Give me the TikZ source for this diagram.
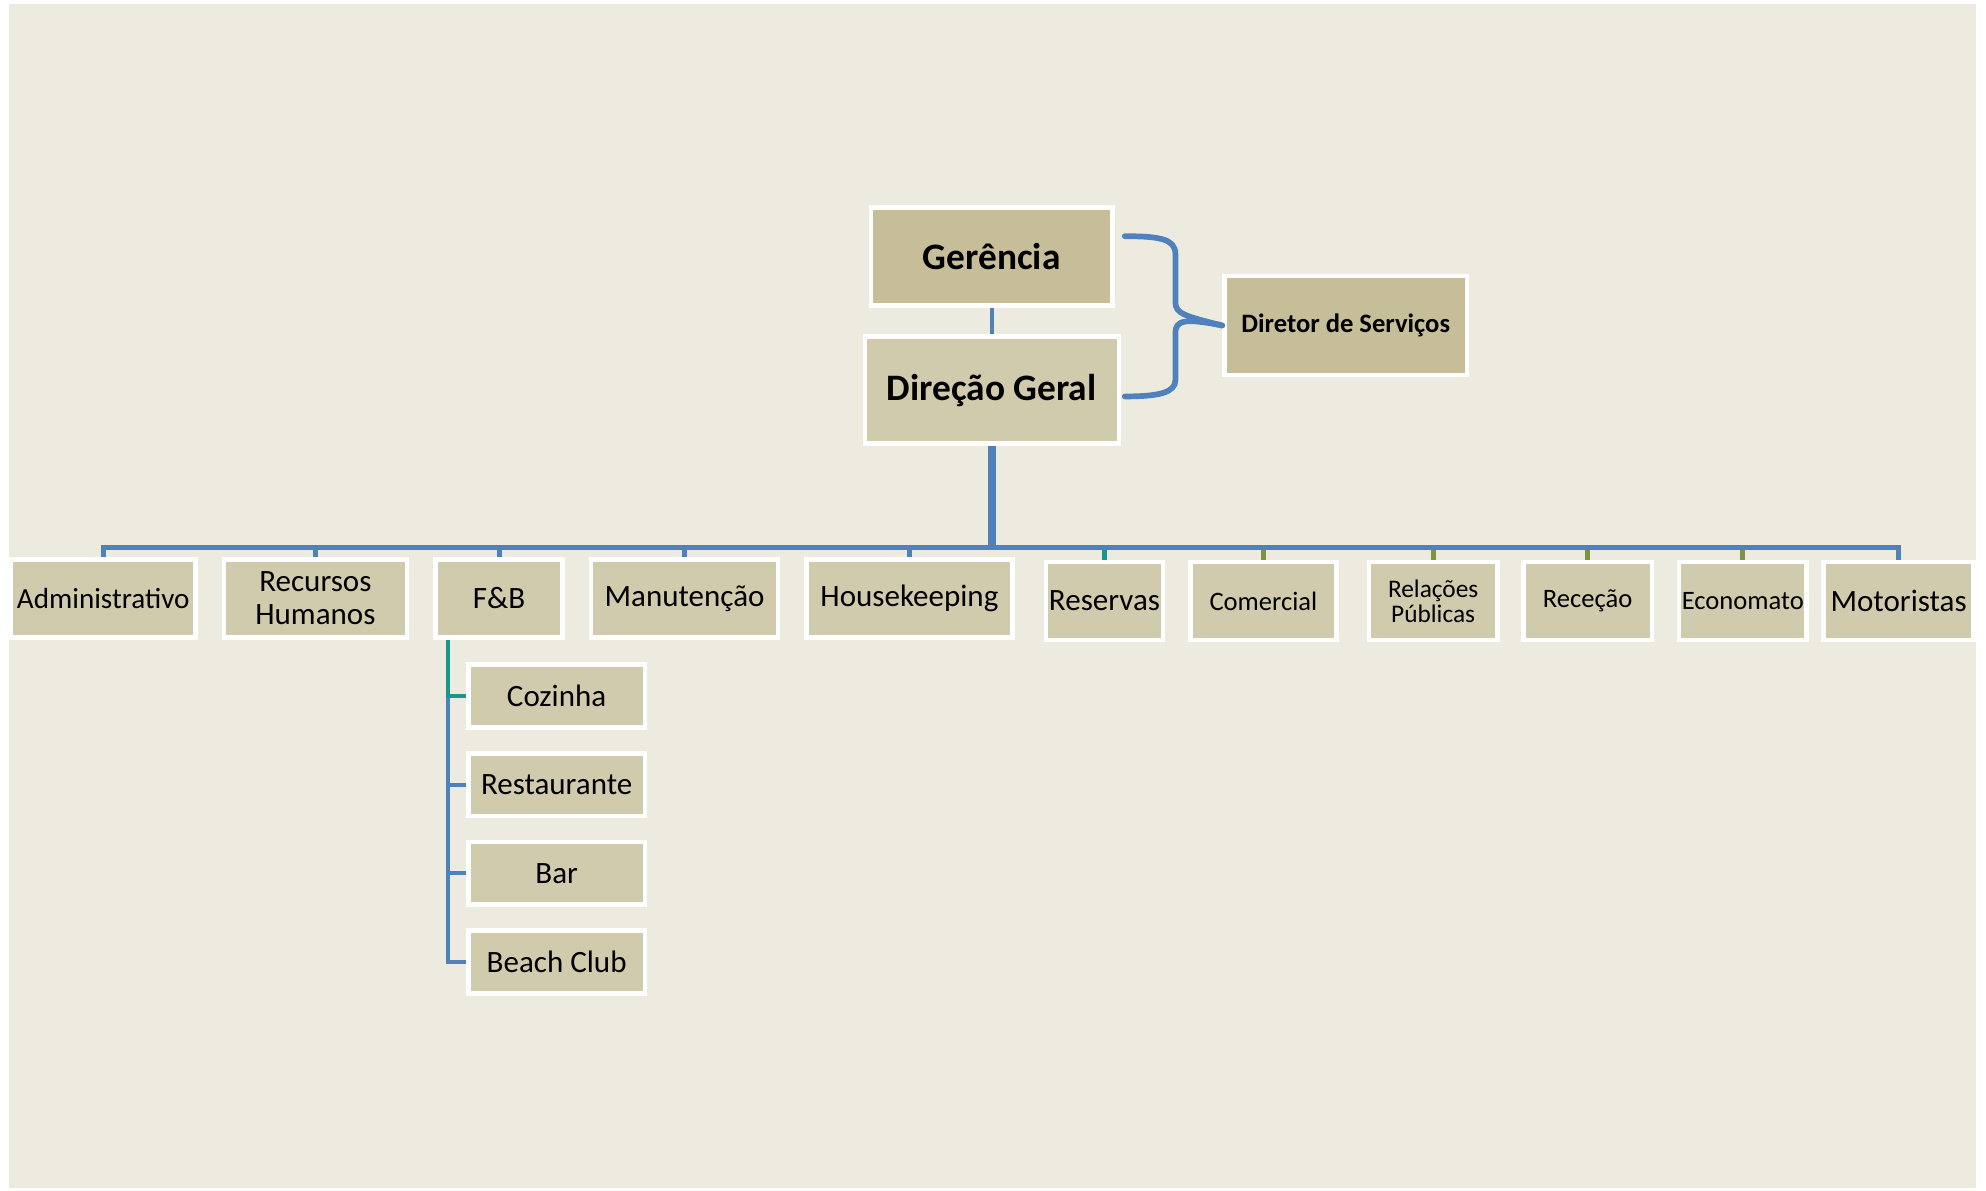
\documentclass[tikz,border=0pt]{standalone}
\usepackage{fontspec}
\setmainfont{Carlito}
\usetikzlibrary{calc}
\definecolor{bgc}{HTML}{EDEBE0}
\definecolor{boxfill}{HTML}{D0CBAD}
\definecolor{topfill}{HTML}{C5BE98}
\definecolor{lblue}{HTML}{4F81BD}
\definecolor{lteal}{HTML}{16998C}
\definecolor{lolive}{HTML}{7A9440}
\begin{document}
\begin{tikzpicture}[x=1pt,y=-1pt,
  box/.style={draw=white, line width=3.5pt, fill=boxfill, inner sep=0pt, align=center, text=black},
  topbox/.style={box, fill=topfill},
  ftop/.style={font=\fontsize{29.5}{32}\selectfont\bfseries},
  fds/.style={font=\fontsize{21}{24}\selectfont\bfseries},
  fmain/.style={font=\fontsize{24.5}{27}\selectfont},
  fadm/.style={font=\fontsize{23}{26}\selectfont},
  fsmall/.style={font=\fontsize{21}{24}\selectfont},
  frp/.style={font=\fontsize{20}{23}\selectfont},
  blueline/.style={draw=lblue, line width=4pt},
  tealline/.style={draw=lteal, line width=4pt},
  oliveline/.style={draw=lolive, line width=4pt},
  subline/.style={draw=lblue, line width=3.2pt},
  subteal/.style={draw=lteal, line width=3.2pt}]
\useasboundingbox (0,0) rectangle (1568,940);
\fill[white] (0,0) rectangle (1568,940);
\fill[bgc] (7,3) rectangle (1560,938);

% top level
\node[topbox, ftop, minimum width=190.5pt, minimum height=77.5pt] (ger) at (783,202.5) {Gerência};
\node[box, ftop, minimum width=200.5pt, minimum height=84.5pt] (dg) at (783,308) {Direção Geral};
\node[topbox, fds, minimum width=191.5pt, minimum height=78.5pt] (ds) at (1062.5,257) {Diretor de Serviços};

% departments
\node[box, fadm, minimum width=145.5pt, minimum height=61.5pt] (adm) at (81.5,472.5) {Administrativo};
\node[box, fmain, minimum width=144.5pt, minimum height=61.5pt] (rh) at (249,472.5) {Recursos\\[-1pt]Humanos};
\node[box, fmain, minimum width=100.5pt, minimum height=61.5pt] (fb) at (394,472.5) {F\&B};
\node[box, fmain, minimum width=147.5pt, minimum height=61.5pt] (man) at (540.5,472.5) {Manutenção};
\node[box, fmain, minimum width=162.5pt, minimum height=61.5pt] (hk) at (718,472.5) {Housekeeping};
\node[box, fmain, minimum width=92.5pt, minimum height=61.5pt] (res) at (872,474.5) {Reservas};
\node[box, fsmall, minimum width=115.5pt, minimum height=61.5pt] (com) at (997.5,474.5) {Comercial};
\node[box, frp, minimum width=101.5pt, minimum height=61.5pt] (rp) at (1131.5,474.5) {Relações\\[-3pt]Públicas};
\node[box, fsmall, minimum width=101.5pt, minimum height=61.5pt] (rec) at (1253.5,474.5) {Receção};
\node[box, fsmall, minimum width=100.5pt, minimum height=61.5pt] (eco) at (1376,474.5) {Economato};
\node[box, fmain, minimum width=118.5pt, minimum height=61.5pt] (mot) at (1499,474.5) {Motoristas};

% F&B sub units
\node[box, fmain, minimum width=139.5pt, minimum height=49.5pt] (coz) at (439.5,549.5) {Cozinha};
\node[box, fmain, minimum width=139.5pt, minimum height=49.5pt] (rest) at (439.5,619.5) {Restaurante};
\node[box, fmain, minimum width=139.5pt, minimum height=49.5pt] (bar) at (439.5,689.5) {Bar};
\node[box, fmain, minimum width=139.5pt, minimum height=49.5pt] (bc) at (439.5,759.5) {Beach Club};

% connectors top
\draw[draw=lblue, line width=3.5pt] (ger.south) -- (dg.north);
\coordinate (tip) at (ds.west);
\draw[draw=lblue, line width=4.5pt, line cap=round]
  ($(ger.east)+(8,-16)$) .. controls ($(ger.east)+(35,-16)$) and ($(ger.east)+(48,-14)$) .. ($(ger.east)+(48,-2)$)
  -- ($(ger.east)+(48,36)$) .. controls ($(ger.east)+(48,45)$) and ($(ger.east)+(55,47)$) .. (tip);
\draw[draw=lblue, line width=4.5pt, line cap=round]
  (tip) .. controls ($(dg.east)+(50,-57)$) and ($(dg.east)+(43,-55)$) .. ($(dg.east)+(43,-45)$)
  -- ($(dg.east)+(43,-8)$) .. controls ($(dg.east)+(43,2)$) and ($(dg.east)+(30,5)$) .. ($(dg.east)+(3,5)$);

% bus
\coordinate (bus) at ($(dg.south)+(0,80)$);
\draw[blueline] (adm.north) -- (adm.north |- bus) -- (mot.north |- bus) -- (mot.north);
\foreach \n in {rh,fb,man,hk}{\draw[blueline] (\n.north) -- (\n.north |- bus);}
\draw[tealline] (res.north) -- ($(res.north |- bus)+(0,2)$);
\foreach \n in {com,rp,rec,eco}{\draw[oliveline] (\n.north) -- ($(\n.north |- bus)+(0,2)$);}
\draw[draw=lblue, line width=6pt] (dg.south) -- ($(bus)+(0,2)$);

% F&B branch
\coordinate (fbv) at ($(fb.south west)+(12,0)$);
\draw[subline] (fbv |- coz.west) -- (fbv |- bc.west) -- (bc.west);
\draw[subline] (fbv |- rest.west) -- (rest.west);
\draw[subline] (fbv |- bar.west) -- (bar.west);
\draw[subteal] (fbv) -- (fbv |- coz.west) -- (coz.west);
\end{tikzpicture}
\end{document}
